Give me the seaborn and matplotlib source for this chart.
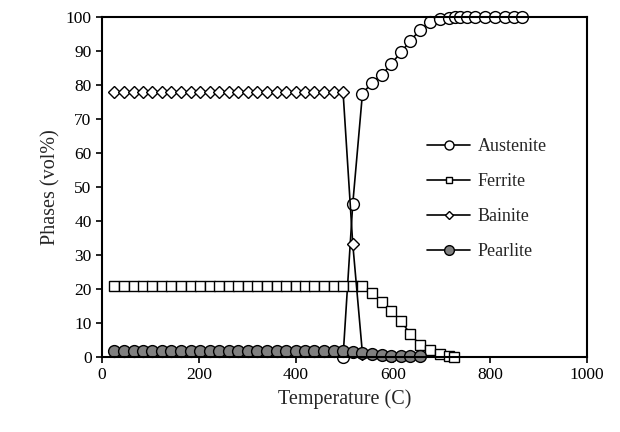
import matplotlib

matplotlib.use("Agg", force=True)

import matplotlib.pyplot as plt
import seaborn as sns

# temperatures (C)
t_flat = [25, 45, 65, 84, 104, 124, 143, 163, 183, 202, 222, 242, 261,
          281, 301, 320, 340, 360, 379, 399, 419, 438, 458, 478, 497]
t_hot = [517, 537, 557, 577, 596, 616, 636, 656, 676, 697, 716, 726]

aust_t = [497, 517, 537, 557, 577, 596, 616, 636, 656, 676, 697, 716,
          728, 738, 752, 770, 790, 810, 830, 850, 865]
aust_v = [0, 45, 77.5, 80.7, 83, 86.1, 89.6, 93, 96.3, 98.4, 99.3, 99.7,
          100, 100, 100, 100, 100, 100, 100, 100, 100]

ferr_t = t_flat + t_hot
ferr_v = [21] * 25 + [21, 21, 18.9, 16.3, 13.5, 10.7, 6.7, 3.5, 2.0, 0.8, 0.3, 0.1]

bain_t = t_flat + [517, 537]
bain_v = [78] * 25 + [33.3, 1.0]

pear_t = t_flat + [517, 537, 557, 577, 596, 616, 636, 656]
pear_v = [1.8] * 24 + [1.8, 1.6, 1.3, 0.9, 0.6, 0.4, 0.25, 0.3, 0.4]

sns.set_style("ticks")
plt.rcParams["font.family"] = ["Liberation Serif", "DejaVu Serif"]

fig, ax = plt.subplots(figsize=(6.2, 4.32), dpi=100)
fig.subplots_adjust(left=0.1645, right=0.9468, top=0.9606, bottom=0.1736)

common = dict(color="black", linewidth=1.2, ax=ax, markeredgecolor="black",
              markeredgewidth=1.0, sort=False)
sns.lineplot(x=aust_t, y=aust_v, marker="o", markersize=8.5,
             markerfacecolor="white", label="Austenite", **common)
sns.lineplot(x=ferr_t, y=ferr_v, marker="s", markersize=6.5,
             markerfacecolor="white", label="Ferrite", **common)
sns.lineplot(x=bain_t, y=bain_v, marker="D", markersize=6.5,
             markerfacecolor="white", label="Bainite", **common)
sns.lineplot(x=pear_t, y=pear_v, marker="o", markersize=8.5,
             markerfacecolor="#808080", label="Pearlite", **common)

for ln in ax.lines:
    ln.set_clip_on(False)

ax.set_xlim(0, 1000)
ax.set_ylim(0, 100)
ax.set_xticks(range(0, 1001, 200))
ax.set_yticks(range(0, 101, 10))
ax.set_xlabel("Temperature (C)", fontsize=14.5)
ax.set_ylabel("Phases (vol%)", fontsize=14.5)
ax.tick_params(axis="both", direction="out", length=4, width=1.2,
               labelsize=12.5, color="black", labelcolor="black")
for side in ["top", "right", "left", "bottom"]:
    ax.spines[side].set_visible(True)
    ax.spines[side].set_color("black")
    ax.spines[side].set_linewidth(1.5)

leg = ax.legend(loc="upper left", bbox_to_anchor=(0.67, 0.644), frameon=False,
                fontsize=13, borderaxespad=0, borderpad=0, handlelength=2.4,
                handletextpad=0.4, labelspacing=1.0)
for h, ms in zip(leg.legend_handles, [6.5, 5, 4.5, 7]):
    h.set_markersize(ms)

fig.savefig("out.png", dpi=100)
